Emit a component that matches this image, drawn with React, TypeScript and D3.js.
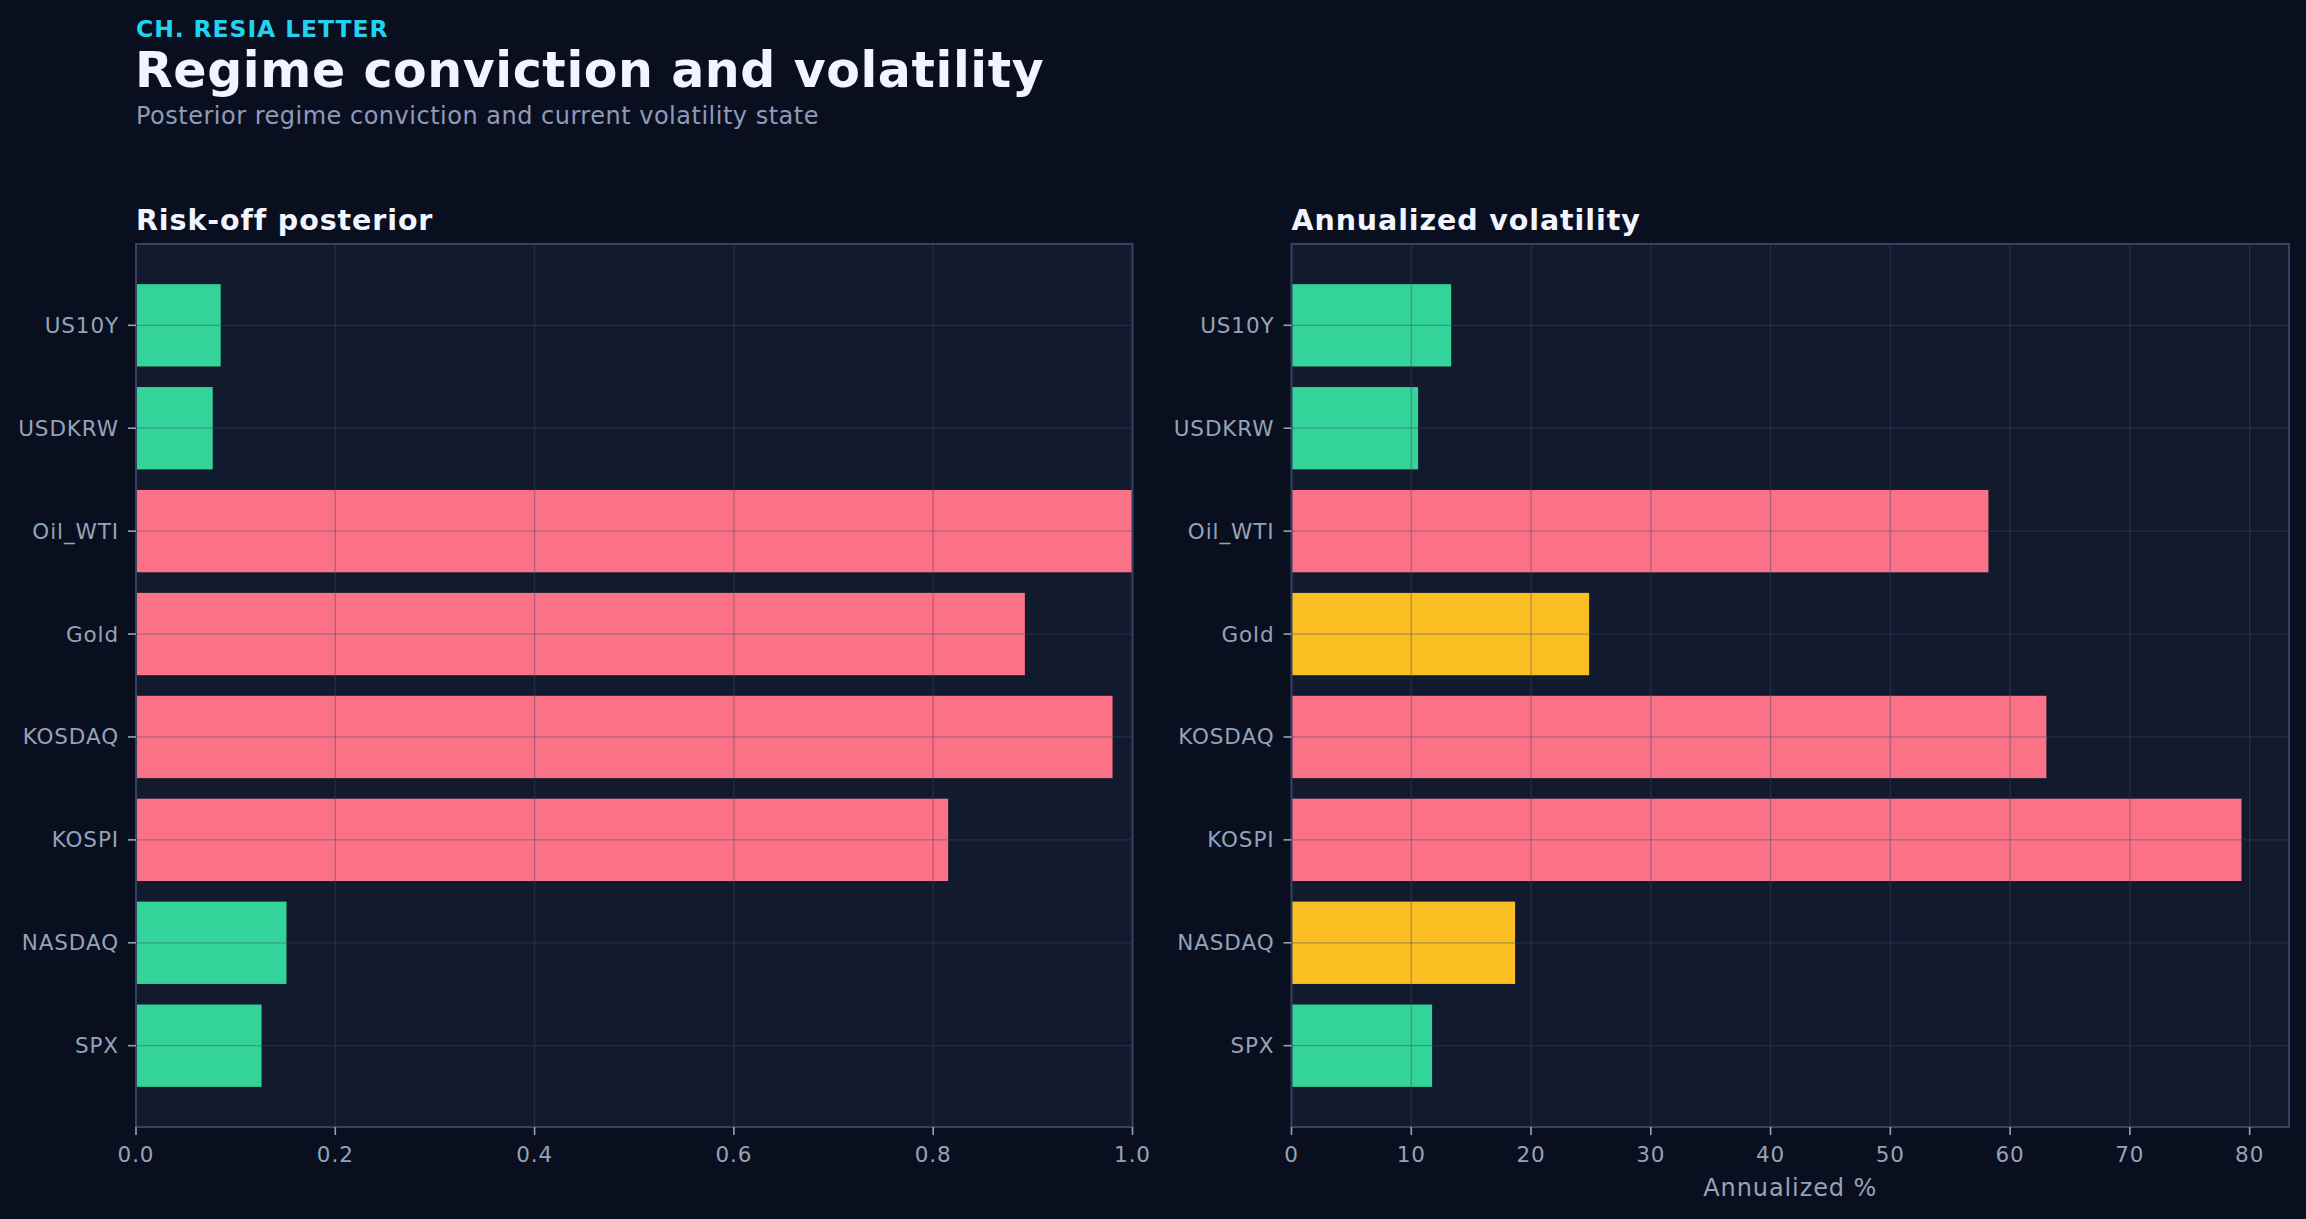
import * as d3 from 'd3';
import { useEffect } from 'react';

// assets listed bottom to top, as in the matplotlib source
const assets = ['SPX', 'NASDAQ', 'KOSPI', 'KOSDAQ', 'Gold', 'Oil_WTI', 'USDKRW', 'US10Y'];
const posterior = [0.126, 0.151, 0.815, 0.98, 0.892, 1.0, 0.077, 0.085];
const volatility = [11.74, 18.67, 79.32, 63.03, 24.85, 58.19, 10.57, 13.33];
const regimeState = ['calm', 'calm', 'stress', 'stress', 'stress', 'stress', 'calm', 'calm'];
const volState = ['low', 'mid', 'high', 'high', 'mid', 'high', 'low', 'low'];
const posteriorTicks = [0, 0.2, 0.4, 0.6, 0.8, 1.0];
const volTicks = [0, 10, 20, 30, 40, 50, 60, 70, 80];

const W = 2306;
const H = 1219;
const top = 244;
const bottom = 1127;
const font = 'DejaVu Sans, sans-serif';

const colors: Record<string, string> = {
  calm: '#34d399',
  stress: '#fb7185',
  low: '#34d399',
  mid: '#fbbf24',
  high: '#fb7185',
};

function Panel({
  x0,
  x1,
  title,
  values,
  states,
  domainMax,
  ticks,
  fmt,
  xLabel,
}: {
  x0: number;
  x1: number;
  title: string;
  values: number[];
  states: string[];
  domainMax: number;
  ticks: number[];
  fmt: (v: number) => string;
  xLabel?: string;
}) {
  const x = d3.scaleLinear().domain([0, domainMax]).range([x0, x1]);
  const y = d3
    .scaleBand<string>()
    .domain([...assets].reverse())
    .range([top, bottom])
    .paddingInner(0.2)
    .paddingOuter(0.39);
  const grid = { stroke: '#3b4a6b', strokeOpacity: 0.4, strokeWidth: 1.3 };

  return (
    <g>
      <text
        x={x0}
        y={230}
        fill="#f1f5ff"
        fontSize={28.5}
        fontWeight="bold"
        fontFamily={font}
        letterSpacing={0.9}
      >
        {title}
      </text>
      <rect x={x0} y={top} width={x1 - x0} height={bottom - top} fill="#121a2e" />
      {assets.map((a, i) => (
        <rect
          key={a}
          x={x(0)}
          y={y(a)}
          width={x(values[i]) - x(0)}
          height={y.bandwidth()}
          fill={colors[states[i]]}
        />
      ))}
      {/* grid drawn over the bars */}
      {ticks.map((t) => (
        <line key={'gx' + t} x1={x(t)} x2={x(t)} y1={top} y2={bottom} {...grid} />
      ))}
      {assets.map((a) => {
        const cy = (y(a) as number) + y.bandwidth() / 2;
        return <line key={'gy' + a} x1={x0} x2={x1} y1={cy} y2={cy} {...grid} />;
      })}
      <rect x={x0} y={top} width={x1 - x0} height={bottom - top} fill="none" stroke="#344264" strokeWidth={2} />
      {assets.map((a) => {
        const cy = (y(a) as number) + y.bandwidth() / 2;
        return (
          <g key={'ty' + a}>
            <line x1={x0 - 8} x2={x0} y1={cy} y2={cy} stroke="#94a3b8" strokeWidth={1.6} />
            <text
              x={x0 - 17}
              y={cy}
              dy="0.35em"
              textAnchor="end"
              fill="#94a3b8"
              fontSize={21.5}
              fontFamily={font}
              letterSpacing={0.9}
            >
              {a}
            </text>
          </g>
        );
      })}
      {ticks.map((t) => (
        <g key={'tx' + t}>
          <line x1={x(t)} x2={x(t)} y1={bottom} y2={bottom + 8} stroke="#94a3b8" strokeWidth={1.6} />
          <text
            x={x(t)}
            y={bottom + 35}
            textAnchor="middle"
            fill="#94a3b8"
            fontSize={21.5}
            fontFamily={font}
            letterSpacing={0.9}
          >
            {fmt(t)}
          </text>
        </g>
      ))}
      {xLabel && (
        <text
          x={(x0 + x1) / 2}
          y={1196}
          textAnchor="middle"
          fill="#94a3b8"
          fontSize={24}
          fontFamily={font}
          letterSpacing={0.9}
        >
          {xLabel}
        </text>
      )}
    </g>
  );
}

export default function App() {
  useEffect(() => {
    document.body.style.margin = '0';
    document.body.style.background = '#0a0f1f';
  }, []);

  const volMax = (d3.max(volatility) as number) * 1.05;

  return (
    <svg width={W} height={H} style={{ display: 'block' }}>
      <rect width={W} height={H} fill="#0a0f1f" />
      <text
        x={136}
        y={36.5}
        fill="#22d3ee"
        fontSize={23.5}
        fontWeight="bold"
        fontFamily={font}
        letterSpacing={0.9}
      >
        CH. RESIA LETTER
      </text>
      <text
        x={135}
        y={87}
        fill="#f1f5ff"
        fontSize={49}
        fontWeight="bold"
        fontFamily={font}
        letterSpacing={0.6}
      >
        Regime conviction and volatility
      </text>
      <text x={136} y={124} fill="#8e9bb8" fontSize={24} fontFamily={font} letterSpacing={0.5}>
        Posterior regime conviction and current volatility state
      </text>
      <Panel
        x0={136}
        x1={1132.5}
        title="Risk-off posterior"
        values={posterior}
        states={regimeState}
        domainMax={1}
        ticks={posteriorTicks}
        fmt={d3.format('.1f')}
      />
      <Panel
        x0={1291.5}
        x1={2289}
        title="Annualized volatility"
        values={volatility}
        states={volState}
        domainMax={volMax}
        ticks={volTicks}
        fmt={d3.format('d')}
        xLabel="Annualized %"
      />
    </svg>
  );
}
